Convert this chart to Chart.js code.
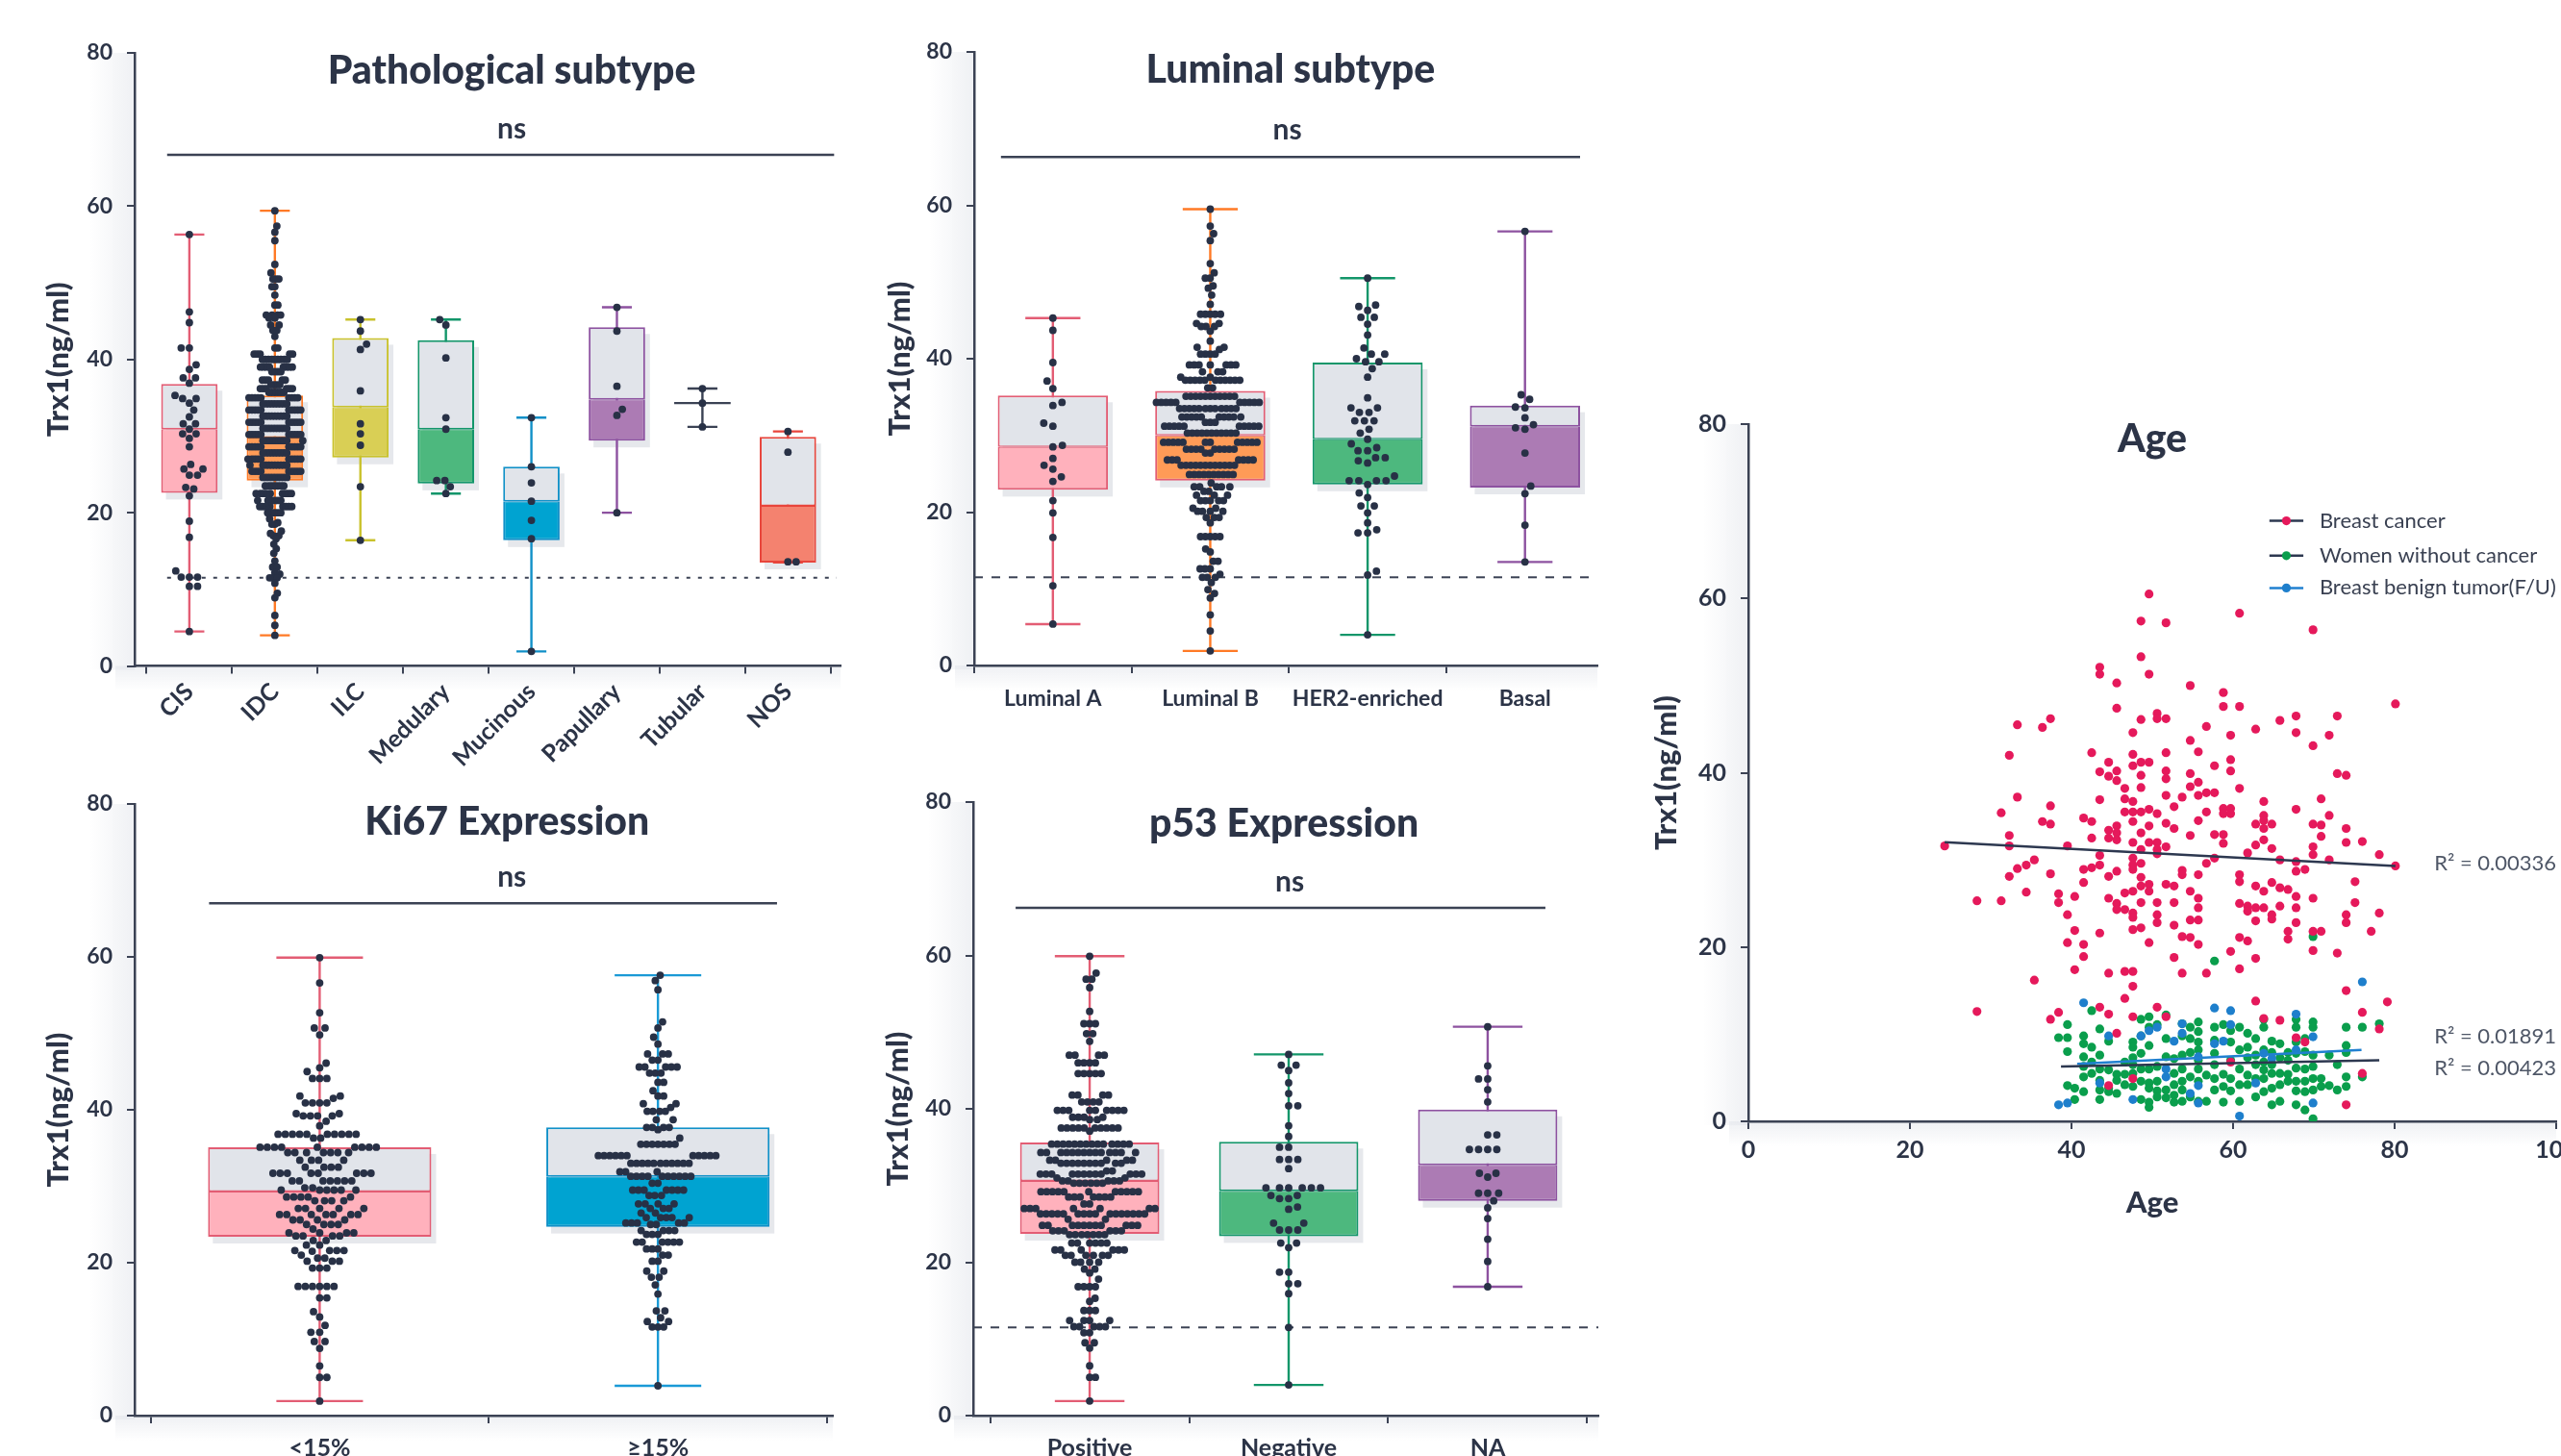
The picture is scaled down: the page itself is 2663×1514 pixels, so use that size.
<!DOCTYPE html>
<html>
<head>
<meta charset="utf-8">
<title>Trx1 levels by clinicopathological features</title>
<script src="https://cdn.jsdelivr.net/npm/chart.js@4.4.1/dist/chart.umd.min.js"></script>
<style>
  html, body { margin: 0; padding: 0; background: #ffffff; width: 2663px; height: 1514px; overflow: hidden; position: relative; }
  canvas { position: absolute; }
</style>
</head>
<body>
<canvas id="pathChart"></canvas>
<canvas id="lumChart"></canvas>
<canvas id="ki67Chart"></canvas>
<canvas id="p53Chart"></canvas>
<canvas id="ageChart"></canvas>
<script>
// ---------------------------------------------------------------
// Data: Trx1 (ng/ml). Swarm groups are listed as [value, count].
// ---------------------------------------------------------------
const yTicks = [0, 20, 40, 60, 80];

// Pathological subtype
const pathCats = ['CIS', 'IDC', 'ILC', 'Medulary', 'Mucinous', 'Papullary', 'Tubular', 'NOS'];
const pathMin = [4.5, 4.0, 16.4, 22.5, 1.9, 20.0, 31.2, 13.5];
const pathQ1  = [22.6, 24.2, 27.2, 23.8, 16.4, 29.4, null, 13.5];
const pathMed = [30.9, 29.8, 33.8, 30.9, 21.5, 34.8, 34.3, 20.9];
const pathQ3  = [36.8, 35.3, 42.8, 42.5, 26.0, 44.2, null, 29.9];
const pathMax = [56.3, 59.4, 45.2, 45.2, 32.4, 46.8, 36.2, 30.6];
const cisVals = [[56.3,1],[46.2,1],[44.8,1],[41.5,2],[39.3,1],[38.7,1],[37.6,2],[36.9,1],[35.3,1],[34.9,2],[34.3,1],[33.4,1],[32.5,1],[31.6,2],[30.9,1],[30.3,2],[29.7,1],[28.6,1],[26.3,1],[25.7,2],[24.9,2],[23.3,1],[23.1,1],[22.2,1],[18.9,1],[16.8,1],[12.4,1],[11.6,3],[10.4,2],[4.5,1]];
const idcVals = [[59.4,1],[57.4,1],[56.6,1],[55.5,1],[52.4,1],[51.3,1],[50.5,3],[49.5,2],[48.4,1],[47.1,2],[45.8,4],[45.4,2],[44.5,2],[43.8,2],[43.0,1],[41.5,2],[40.7,5],[40.0,9],[39.0,8],[38.4,4],[37.3,5],[36.7,4],[36.2,6],[35.7,6],[35.0,9],[34.2,9],[33.4,10],[32.6,9],[31.8,10],[31.0,9],[30.2,10],[29.4,10],[28.6,10],[27.8,9],[27.0,10],[26.2,10],[25.4,9],[24.6,9],[23.5,7],[22.5,9],[21.6,6],[20.8,8],[20.0,5],[19.2,1],[18.7,1],[18.5,2],[17.6,1],[17.3,1],[17.0,2],[16.6,1],[15.9,1],[15.3,1],[14.7,1],[13.7,1],[12.9,2],[12.2,1],[12.0,1],[11.5,3],[10.8,1],[9.5,1],[8.9,1],[6.6,1],[5.3,1],[4.0,1]];
const ilcVals = [[45.2,1],[43.7,1],[42.0,1],[41.3,1],[35.9,1],[31.6,1],[30.3,1],[28.8,1],[23.4,1],[16.4,1]];
const medVals = [[45.2,1],[44.5,1],[40.2,1],[32.4,1],[30.9,1],[24.2,2],[23.4,1],[22.5,1]];
const mucVals = [[32.4,1],[26.0,1],[23.9,1],[21.5,1],[19.0,1],[16.6,1],[1.9,1]];
const papVals = [[46.8,1],[43.7,1],[36.5,1],[33.5,1],[32.7,1],[20.0,1]];
const tubVals = [[36.2,1],[34.3,1],[31.2,1]];
const nosVals = [[30.6,1],[27.9,1],[13.6,2]];

// Luminal subtype
const lumCats = ['Luminal A', 'Luminal B', 'HER2-enriched', 'Basal'];
const lumMin = [5.4, 1.9, 4.0, 13.5];
const lumQ1  = [22.9, 24.1, 23.6, 23.2];
const lumMed = [28.5, 30.0, 29.5, 31.2];
const lumQ3  = [35.2, 35.8, 39.5, 33.9];
const lumMax = [45.3, 59.5, 50.5, 56.6];
const lumAVals = [[45.3,1],[43.7,1],[39.5,1],[37.1,1],[36.1,1],[34.3,1],[33.9,1],[31.6,1],[31.2,1],[28.7,1],[28.5,1],[27.0,1],[26.1,1],[25.6,1],[24.6,1],[24.0,1],[21.5,1],[19.9,1],[16.7,1],[10.4,1],[5.4,1]];
const lumBVals = [[59.5,1],[57.3,1],[56.3,1],[55.4,1],[52.4,1],[51.2,1],[50.5,2],[49.5,1],[49.2,1],[48.3,1],[47.1,1],[45.8,5],[44.6,2],[44.2,3],[43.6,1],[42.3,1],[41.5,2],[41.2,1],[40.6,4],[39.2,7],[38.3,3],[37.6,2],[37.2,11],[36.2,2],[35.1,11],[34.3,10],[33.5,12],[32.4,10],[31.7,3],[31.2,10],[30.3,11],[29.1,12],[28.2,9],[27.7,2],[26.8,7],[26.1,12],[24.9,10],[23.8,1],[23.3,5],[22.7,2],[22.2,3],[21.5,5],[20.5,2],[20.1,4],[19.3,3],[18.6,1],[16.8,5],[15.2,1],[14.8,1],[13.6,2],[12.6,3],[11.9,1],[11.5,3],[10.8,1],[9.9,1],[9.4,1],[8.8,1],[6.6,1],[4.5,1],[1.9,1]];
const her2Vals = [[50.5,1],[47.0,1],[46.8,1],[46.3,1],[45.4,2],[44.5,1],[43.1,1],[41.4,1],[40.6,2],[40.0,1],[39.6,2],[38.7,1],[37.6,1],[34.9,1],[33.6,2],[33.0,2],[31.9,3],[30.8,1],[30.3,1],[29.5,1],[28.9,1],[28.4,1],[28.0,2],[27.1,2],[26.7,1],[26.4,1],[24.7,1],[24.1,4],[23.6,1],[22.5,1],[21.9,1],[20.8,2],[19.9,1],[18.6,1],[17.7,1],[17.3,2],[12.3,1],[11.8,1],[4.0,1]];
const basalVals = [[56.6,1],[35.3,1],[34.7,1],[33.7,1],[33.6,1],[32.3,1],[31.4,1],[31.0,1],[30.8,1],[27.7,1],[23.4,1],[22.4,1],[18.3,1],[13.5,1]];

// Ki67 expression
const ki67Cats = ['<15%', '\u226515%'];
const ki67Min = [1.9, 3.9];
const ki67Q1  = [23.4, 24.7];
const ki67Med = [29.3, 31.3];
const ki67Q3  = [35.1, 37.7];
const ki67Max = [59.9, 57.6];
const ki67LowVals = [[59.9,1],[56.6,1],[52.7,1],[50.7,2],[49.8,1],[46.1,1],[45.5,1],[45.0,1],[44.1,3],[41.8,2],[41.5,1],[40.9,4],[39.5,2],[39.2,4],[38.5,1],[37.9,1],[36.8,10],[36.3,2],[35.1,9],[34.4,7],[33.4,4],[32.5,4],[31.7,8],[30.7,7],[29.8,2],[29.5,6],[28.6,5],[28.1,4],[27.1,5],[26.3,7],[25.6,4],[25.0,4],[24.4,1],[23.9,4],[23.5,4],[22.9,2],[22.3,2],[21.6,4],[21.5,1],[21.0,1],[20.6,2],[20.2,3],[19.3,3],[16.9,6],[15.4,2],[13.6,1],[12.9,1],[11.8,1],[10.9,2],[9.7,2],[8.8,1],[6.5,1],[5.0,2],[1.9,1]];
const ki67HighVals = [[57.6,1],[56.9,1],[55.7,1],[51.5,1],[50.7,1],[49.5,1],[48.6,1],[47.3,3],[46.5,2],[45.6,5],[44.8,3],[43.6,2],[42.5,1],[41.8,2],[40.8,2],[40.3,1],[39.8,4],[38.7,2],[37.7,4],[37.4,1],[36.3,1],[35.5,7],[34.0,11],[33.0,11],[31.9,3],[31.3,10],[30.4,2],[29.5,7],[28.8,3],[27.7,4],[27.1,3],[26.5,2],[25.9,5],[25.2,5],[25.0,2],[24.2,4],[23.7,3],[22.7,6],[21.8,3],[21.0,2],[20.2,2],[18.9,2],[18.1,2],[17.1,1],[15.9,1],[13.7,2],[12.8,1],[12.3,2],[11.6,3],[3.9,1]];

// p53 expression
const p53Cats = ['Positive', 'Negative', 'NA'];
const p53Min = [1.9, 4.0, 16.8];
const p53Q1  = [23.7, 23.4, 28.0];
const p53Med = [30.6, 29.3, 32.7];
const p53Q3  = [35.6, 35.7, 39.9];
const p53Max = [59.9, 47.1, 50.7];
const p53PosVals = [[59.9,1],[57.7,1],[56.9,2],[55.8,1],[52.7,1],[51.1,3],[49.8,2],[48.8,1],[47.0,4],[46.0,4],[44.6,5],[41.8,4],[40.9,4],[39.8,9],[38.9,4],[38.6,2],[37.5,10],[37.1,1],[35.4,14],[34.3,14],[33.3,5],[32.9,10],[31.9,2],[31.5,12],[31.0,2],[30.6,5],[30.3,6],[29.2,11],[28.5,7],[27.6,2],[27.0,7],[26.3,16],[25.6,2],[24.8,11],[24.1,6],[23.6,7],[22.5,6],[21.6,6],[20.9,6],[20.0,4],[19.1,2],[18.6,1],[17.8,1],[16.8,4],[15.3,1],[14.9,1],[13.7,3],[12.4,4],[11.6,5],[10.8,2],[9.5,2],[8.8,1],[6.5,1],[5.0,2],[1.9,1]];
const p53NegVals = [[47.1,1],[45.7,2],[45.0,1],[43.4,1],[42.0,1],[40.4,2],[37.8,1],[36.4,1],[35.0,2],[33.4,3],[32.2,1],[29.7,6],[28.7,2],[28.3,2],[27.2,1],[26.9,1],[25.1,2],[24.2,3],[22.5,2],[21.9,1],[18.7,2],[17.2,2],[15.9,1],[11.5,1],[4.0,1]];
const p53NaVals = [[50.7,1],[45.6,1],[43.9,2],[42.5,1],[40.9,1],[36.6,2],[34.7,4],[31.6,2],[31.1,1],[29.0,3],[28.0,1],[27.1,1],[25.7,1],[23.0,1],[20.1,1],[16.8,1]];

// Age vs Trx1: [age, Trx1]
const ageTicks = [0, 20, 40, 60, 80, 100];
const cancerPts = [[24.3,31.6],[28.3,25.3],[28.3,12.6],[31.3,35.4],[31.3,25.3],[32.3,42.0],[32.3,32.8],[32.3,31.6],[32.3,28.1],[33.3,45.5],[33.3,37.2],[33.3,29.0],[34.4,29.4],[34.4,26.3],[35.4,30.0],[35.4,16.2],[36.4,45.2],[36.4,34.4],[37.4,46.2],[37.4,36.2],[37.4,34.1],[37.4,28.4],[38.4,26.1],[38.4,25.1],[38.4,12.5],[37.4,11.7],[39.5,31.6],[39.5,23.7],[39.5,20.5],[40.4,25.8],[40.4,21.9],[40.4,17.4],[41.5,34.8],[41.5,28.9],[41.5,27.4],[41.5,20.3],[41.5,18.9],[42.5,42.3],[42.5,34.4],[42.5,32.5],[42.5,29.1],[43.5,52.1],[43.5,51.3],[43.5,40.1],[43.5,36.9],[43.5,30.5],[43.5,29.4],[43.5,21.6],[43.5,13.1],[44.6,41.2],[44.6,39.6],[44.6,33.4],[44.6,32.5],[44.6,28.1],[44.6,25.6],[44.6,17.0],[44.6,12.3],[45.6,50.3],[45.6,47.4],[45.6,40.2],[45.6,39.1],[45.6,33.9],[45.6,33.1],[45.6,32.3],[45.6,28.7],[45.6,25.0],[45.6,24.3],[45.6,10.1],[46.6,38.2],[46.6,37.0],[46.6,35.5],[46.6,26.2],[46.6,24.3],[46.6,17.2],[46.6,14.1],[47.6,44.6],[47.6,42.1],[47.6,40.8],[47.6,36.7],[47.6,35.5],[47.6,34.4],[47.6,32.0],[47.6,30.2],[47.6,29.4],[47.6,28.9],[47.6,26.4],[47.6,23.9],[47.6,23.4],[47.6,22.0],[47.6,17.2],[47.6,15.5],[47.6,12.0],[47.6,4.9],[48.6,57.4],[48.6,53.3],[48.6,46.1],[48.6,41.2],[48.6,39.7],[48.6,38.3],[48.6,35.5],[48.6,33.1],[48.6,31.2],[48.6,29.6],[48.6,28.0],[48.6,27.0],[48.6,25.1],[48.6,22.2],[49.6,60.5],[49.6,51.3],[49.6,41.2],[49.6,35.8],[49.6,33.9],[49.6,32.0],[49.6,27.2],[49.6,26.4],[49.6,20.5],[50.6,46.8],[50.6,46.2],[50.6,35.3],[50.6,32.0],[50.6,31.2],[50.6,30.7],[50.6,25.1],[50.6,23.7],[50.6,22.8],[50.6,13.1],[51.7,57.2],[51.7,46.2],[51.7,42.3],[51.7,40.2],[51.7,39.3],[51.7,37.4],[51.7,34.2],[51.7,31.5],[51.7,27.2],[51.7,12.0],[52.7,36.1],[52.7,33.6],[52.7,27.0],[52.7,25.1],[52.7,22.5],[52.7,18.8],[53.7,37.2],[53.7,28.8],[53.7,28.3],[53.7,21.2],[53.7,17.0],[54.7,50.0],[54.7,43.7],[54.7,39.9],[54.7,38.4],[54.7,32.8],[54.7,26.4],[54.7,23.1],[54.7,21.1],[55.7,42.4],[55.7,38.9],[55.7,37.4],[55.7,34.5],[55.7,28.3],[55.7,25.6],[55.7,24.5],[55.7,23.1],[55.7,20.3],[56.7,45.3],[56.7,37.7],[56.7,35.5],[56.7,29.6],[56.7,17.0],[57.7,40.8],[57.7,37.7],[57.7,32.9],[57.7,30.2],[58.8,49.2],[58.8,47.6],[58.8,35.9],[58.8,35.3],[58.8,32.9],[58.8,31.9],[59.7,44.3],[59.7,41.5],[59.7,40.2],[59.7,35.9],[59.7,35.3],[59.7,19.5],[60.8,58.3],[60.8,47.6],[60.8,38.2],[60.8,28.3],[60.8,27.5],[60.8,25.0],[60.8,21.1],[60.8,17.5],[61.8,30.8],[61.8,24.7],[61.8,24.1],[61.8,20.7],[62.8,45.0],[62.8,34.1],[62.8,31.7],[62.8,27.0],[62.8,24.5],[62.8,23.0],[62.8,18.7],[62.8,13.8],[63.8,36.7],[63.8,35.1],[63.8,34.5],[63.8,33.6],[63.8,32.3],[63.8,26.4],[63.8,24.5],[63.8,11.8],[64.8,34.1],[64.8,31.3],[64.8,27.4],[64.8,23.7],[64.8,23.2],[65.8,46.0],[65.8,30.0],[65.8,26.8],[65.8,24.7],[65.8,11.6],[66.8,26.6],[66.8,21.8],[66.8,20.9],[67.8,46.5],[67.8,44.6],[67.8,35.8],[67.8,29.8],[67.8,28.7],[67.8,25.8],[67.8,24.5],[67.8,22.8],[67.8,9.6],[68.9,28.9],[68.9,9.1],[69.9,56.4],[69.9,43.1],[69.9,34.1],[69.9,31.5],[69.9,30.6],[69.9,25.6],[69.9,21.8],[69.9,19.6],[70.9,37.0],[70.9,34.0],[70.9,32.7],[70.9,21.8],[71.9,44.3],[71.9,35.1],[71.9,30.0],[72.9,46.5],[72.9,39.9],[72.9,19.3],[74.0,39.7],[74.0,33.6],[74.0,32.0],[74.0,23.7],[74.0,22.8],[74.0,15.0],[74.0,1.9],[75.1,27.5],[75.1,25.1],[76.0,32.1],[76.0,12.5],[76.0,5.5],[77.1,21.8],[78.1,30.6],[78.1,23.9],[78.1,10.6],[79.1,13.7],[80.1,47.9],[80.1,29.3],[59.7,6.8],[44.6,4.1]];
const womenPts = [[38.4,9.6],[39.5,11.1],[39.5,9.6],[39.5,8.0],[39.5,4.1],[40.4,3.8],[40.4,2.5],[41.5,9.8],[41.5,8.9],[41.5,7.4],[41.5,6.3],[41.5,5.1],[41.5,3.4],[42.5,12.7],[42.5,8.5],[42.5,6.8],[42.5,5.5],[43.5,10.6],[43.5,7.6],[43.5,6.0],[43.5,4.7],[43.5,3.6],[43.5,2.5],[44.6,9.2],[44.6,5.9],[44.6,3.8],[44.6,3.4],[45.6,5.4],[45.6,4.7],[45.6,3.2],[46.6,6.8],[46.6,5.4],[46.6,4.2],[47.6,9.1],[47.6,8.5],[47.6,7.3],[47.6,6.5],[47.6,5.5],[47.6,4.0],[48.6,11.7],[48.6,9.8],[48.6,7.8],[48.6,6.0],[48.6,4.6],[48.6,2.5],[49.6,12.0],[49.6,10.8],[49.6,8.7],[49.6,6.0],[49.6,4.4],[49.6,3.8],[49.6,2.2],[49.6,1.6],[50.6,11.1],[50.6,6.3],[50.6,4.6],[50.6,3.5],[50.6,2.8],[51.7,12.2],[51.7,9.5],[51.7,7.4],[51.7,3.6],[51.7,2.7],[52.7,7.2],[52.7,5.5],[52.7,4.2],[52.7,3.0],[52.7,2.2],[53.7,11.2],[53.7,9.8],[53.7,7.6],[53.7,6.0],[53.7,4.6],[53.7,3.6],[53.7,2.3],[54.7,10.8],[54.7,9.5],[54.7,7.9],[54.7,5.1],[54.7,2.8],[55.7,11.4],[55.7,10.3],[55.7,9.1],[55.7,8.2],[55.7,7.0],[55.7,6.0],[55.7,4.6],[55.7,2.3],[56.7,5.3],[56.7,2.3],[57.7,18.4],[57.7,10.8],[57.7,9.3],[57.7,7.8],[57.7,6.5],[57.7,4.9],[57.7,3.6],[58.8,11.1],[58.8,5.4],[58.8,4.0],[58.8,2.2],[59.7,10.4],[59.7,9.1],[59.7,7.0],[59.7,4.9],[59.7,3.5],[60.8,10.8],[60.8,8.2],[60.8,6.0],[60.8,4.2],[60.8,2.3],[61.8,10.1],[61.8,8.5],[61.8,7.3],[61.8,5.3],[61.8,4.2],[62.8,9.5],[62.8,7.6],[62.8,6.5],[62.8,4.9],[62.8,2.8],[63.8,11.7],[63.8,10.8],[63.8,8.2],[63.8,6.8],[63.8,5.9],[63.8,4.9],[63.8,3.4],[64.8,9.2],[64.8,7.9],[64.8,6.5],[64.8,5.5],[64.8,3.8],[64.8,1.9],[65.8,8.9],[65.8,7.3],[65.8,5.5],[65.8,4.2],[65.8,2.3],[66.8,7.9],[66.8,7.0],[66.8,5.4],[66.8,4.6],[67.8,11.7],[67.8,10.8],[67.8,9.1],[67.8,7.8],[67.8,6.1],[67.8,4.6],[67.8,3.5],[67.8,1.9],[68.9,9.5],[68.9,8.0],[68.9,6.0],[68.9,4.6],[68.9,3.4],[68.9,1.3],[69.9,21.2],[69.9,11.4],[69.9,10.8],[69.9,7.6],[69.9,6.3],[69.9,4.9],[69.9,3.6],[69.9,0.3],[70.9,4.9],[70.9,4.0],[71.9,7.6],[71.9,4.1],[72.9,6.5],[72.9,3.6],[74.0,10.8],[74.0,8.7],[74.0,7.9],[74.0,5.1],[74.0,4.0],[76.0,10.8],[76.0,5.1],[78.1,11.2]];
const benignPts = [[38.4,1.9],[39.5,2.1],[41.5,13.6],[44.6,9.8],[43.5,4.4],[47.6,2.5],[48.6,9.8],[49.6,10.4],[50.6,10.8],[51.7,6.0],[51.7,5.1],[53.7,11.2],[53.7,10.1],[52.7,9.2],[54.7,3.2],[55.7,4.1],[55.7,2.1],[57.7,13.0],[57.7,8.9],[58.8,9.2],[59.7,12.7],[59.7,11.1],[60.8,0.6],[63.8,7.8],[64.8,7.2],[67.8,12.3],[67.8,8.2],[69.9,9.7],[69.9,2.1],[76.0,16.0],[62.8,4.4],[55.7,7.4]];
const groupNames = ['Breast cancer', 'Women without cancer', 'Breast benign tumor(F/U)'];
// linear fits: Trx1 = intercept + slope * age, drawn over the fitted age span
const fitSlope = [-0.049, 0.0178, 0.0455];
const fitIntercept = [33.23, 5.61, 4.75];
const fitFrom = [24.3, 38.7, 40.7];
const fitTo = [80.1, 78.1, 75.9];
const r2Labels = ['R\u00b2 = 0.00336', 'R\u00b2 = 0.01891', 'R\u00b2 = 0.00423'];
const r2Y = [29.6, 9.7, 6.1];

// ---------------------------------------------------------------
// Styling
// ---------------------------------------------------------------
const INK = '#2c3447';
const AXIS = '#3b4254';
const DOT = '#283146';
const UPPER = '#e1e4ea';
const SHADOW = '#e6e8ec';
const FONT = 'Lato, "Noto Sans", sans-serif';
Chart.defaults.font.family = FONT;
Chart.defaults.color = INK;

const PINK = { fill: '#ffb1bc', line: '#e35d74' };
const ORANGE = { fill: '#ff9b57', line: '#ff7a26' };
const YELLOW = { fill: '#d9cf55', line: '#c9c22c' };
const GREEN = { fill: '#4db87e', line: '#13966a' };
const BLUE = { fill: '#00a3d1', line: '#1090c8' };
const PURPLE = { fill: '#ac7bb4', line: '#8d52a0' };
const SALMON = { fill: '#f4826f', line: '#e8453c' };
const GREY = { fill: '#cfd3da', line: '#3b4254' };

function expandRows(rows) {
  const out = [];
  rows.forEach(([v, n]) => { for (let k = 0; k < n; k++) out.push(v); });
  return out;
}

// place each dot as close to the centre line as possible without overlap
function swarmOffsets(py, d) {
  const order = py.map((_, i) => i).sort((a, b) => py[b] - py[a]);
  const placed = [], out = new Array(py.length);
  let flip = 1;
  for (const i of order) {
    const y = py[i], iv = [];
    for (const p of placed) {
      const dy = Math.abs(p.y - y);
      if (dy < d) { const w = Math.sqrt(d * d - dy * dy); iv.push([p.x - w, p.x + w]); }
    }
    const cands = [0];
    iv.forEach(([a, b]) => cands.push(a, b));
    cands.sort((a, b) => (Math.round(Math.abs(a) * 100) - Math.round(Math.abs(b) * 100)) || (flip * (b - a)));
    let x = 0;
    for (const c of cands) {
      if (iv.every(([a, b]) => c <= a + 1e-6 || c >= b - 1e-6)) { x = c; break; }
    }
    if (Math.abs(x) > 1e-6) flip = -flip;
    placed.push({ x, y });
    out[i] = x;
  }
  return out;
}

function placeCanvas(cv, box) {
  cv.width = box.w; cv.height = box.h;
  cv.style.left = box.x + 'px'; cv.style.top = box.y + 'px';
  cv.style.width = box.w + 'px'; cv.style.height = box.h + 'px';
}

function tickFont(size) { return { family: FONT, size: size || 23, weight: 'bold' }; }

function axisTitle(text, pad) {
  return { display: true, text, color: INK, font: { family: FONT, size: 31, weight: '900' }, padding: pad };
}

function drawText(ctx, text, x, y, font, align, color) {
  ctx.save();
  ctx.font = font; ctx.fillStyle = color || INK;
  ctx.textAlign = align || 'center'; ctx.textBaseline = 'middle';
  ctx.fillText(text, x, y);
  ctx.restore();
}

// faint soft band just outside the axes
function axisGlow(chart) {
  const { ctx, chartArea: a } = chart;
  ctx.save();
  let g = ctx.createLinearGradient(a.left - 46, 0, a.left, 0);
  g.addColorStop(0, 'rgba(225,228,234,0)');
  g.addColorStop(1, 'rgba(225,228,234,0.55)');
  ctx.fillStyle = g;
  ctx.fillRect(a.left - 46, a.top, 46, a.bottom - a.top + 4);
  g = ctx.createLinearGradient(0, a.bottom, 0, a.bottom + 26);
  g.addColorStop(0, 'rgba(225,228,234,0.55)');
  g.addColorStop(1, 'rgba(225,228,234,0)');
  ctx.fillStyle = g;
  ctx.fillRect(a.left - 20, a.bottom, a.right - a.left + 20, 26);
  ctx.restore();
}

// ---------------------------------------------------------------
// Box + swarm panels
// ---------------------------------------------------------------
function makeBoxPanel(o) {
  const cv = document.getElementById(o.id);
  placeCanvas(cv, o.canvas);
  const yW = o.plot.L - o.canvas.x;
  const padTop = o.plot.T - o.canvas.y;
  const padRight = o.canvas.x + o.canvas.w - o.plot.R;
  const xH = o.canvas.y + o.canvas.h - o.plot.B;

  const lower = [], upper = [];
  o.cats.forEach((c, i) => {
    if (o.q1[i] == null) return;
    lower.push({ x: i, y: [o.q1[i], o.med[i]] });
    upper.push({ x: i, y: [o.med[i], o.q3[i]] });
  });
  const pick = (ctx, key) => o.colors[ctx.raw ? ctx.raw.x : 0][key];

  const decor = {
    id: 'decor',
    beforeDraw(chart) { axisGlow(chart); },
    beforeDatasetsDraw(chart) {
      const { ctx, scales: { x, y } } = chart;
      ctx.save();
      if (o.cutoff) {
        ctx.strokeStyle = AXIS; ctx.lineWidth = 2; ctx.setLineDash(o.cutoff.dash);
        const yy = y.getPixelForValue(o.cutoff.y);
        ctx.beginPath(); ctx.moveTo(x.getPixelForValue(o.cutoff.x0), yy); ctx.lineTo(x.getPixelForValue(o.cutoff.x1), yy); ctx.stroke();
        ctx.setLineDash([]);
      }
      // soft offset shadow behind each box
      ctx.fillStyle = SHADOW;
      o.cats.forEach((c, i) => {
        if (o.q1[i] == null) return;
        const xl = x.getPixelForValue(i - o.boxFrac / 2), xr = x.getPixelForValue(i + o.boxFrac / 2);
        const yt = y.getPixelForValue(o.q3[i]), yb = y.getPixelForValue(o.q1[i]);
        ctx.fillRect(xl + 5, yt + 7, xr - xl, yb - yt);
      });
      // whiskers with caps
      ctx.lineWidth = 2.4;
      o.cats.forEach((c, i) => {
        ctx.strokeStyle = o.whisker[i];
        const xc = x.getPixelForValue(i);
        const yMin = y.getPixelForValue(o.min[i]), yMax = y.getPixelForValue(o.max[i]);
        const cl = x.getPixelForValue(i - o.capFrac / 2), cr = x.getPixelForValue(i + o.capFrac / 2);
        ctx.beginPath();
        ctx.moveTo(xc, yMin); ctx.lineTo(xc, yMax);
        ctx.moveTo(cl, yMin); ctx.lineTo(cr, yMin);
        ctx.moveTo(cl, yMax); ctx.lineTo(cr, yMax);
        if (o.q1[i] == null) {
          const ym = y.getPixelForValue(o.med[i]);
          ctx.moveTo(x.getPixelForValue(i - o.boxFrac / 2), ym); ctx.lineTo(x.getPixelForValue(i + o.boxFrac / 2), ym);
        }
        ctx.stroke();
      });
      ctx.restore();
    },
    afterDraw(chart) {
      const { ctx, scales: { x, y } } = chart;
      drawText(ctx, o.title, x.getPixelForValue(o.titleAt[0]), y.getPixelForValue(o.titleAt[1]), '900 41px ' + FONT);
      drawText(ctx, 'ns', x.getPixelForValue(o.nsAt[0]), y.getPixelForValue(o.nsAt[1]), 'bold 30px ' + FONT);
      ctx.save();
      ctx.strokeStyle = AXIS; ctx.lineWidth = 2.5;
      const ly = y.getPixelForValue(o.bar.y);
      ctx.beginPath(); ctx.moveTo(x.getPixelForValue(o.bar.x0), ly); ctx.lineTo(x.getPixelForValue(o.bar.x1), ly); ctx.stroke();
      ctx.restore();
    }
  };

  const chart = new Chart(cv, {
    type: 'scatter',
    data: {
      datasets: [
        { type: 'scatter', data: [], backgroundColor: DOT, borderWidth: 0, pointRadius: o.dotR, order: 0 },
        { type: 'bar', data: lower, backgroundColor: c => pick(c, 'fill'), borderColor: c => pick(c, 'line'),
          borderWidth: { top: 1, right: 2, bottom: 2, left: 2 }, borderSkipped: false, grouped: false,
          categoryPercentage: 1, barPercentage: o.boxFrac, order: 2 },
        { type: 'bar', data: upper, backgroundColor: UPPER, borderColor: c => pick(c, 'line'),
          borderWidth: { top: 2, right: 2, bottom: 1.5, left: 2 }, borderSkipped: false, grouped: false,
          categoryPercentage: 1, barPercentage: o.boxFrac, order: 1 }
      ]
    },
    options: {
      responsive: false, animation: false, events: [],
      layout: { padding: { left: 0, top: padTop, right: padRight, bottom: 0 } },
      plugins: { legend: { display: false }, tooltip: { enabled: false } },
      scales: {
        x: {
          type: 'linear', min: o.xRange[0], max: o.xRange[1], offset: false,
          afterBuildTicks: ax => { ax.ticks = o.cats.map((c, i) => ({ value: i })); },
          afterFit: ax => { ax.height = xH; },
          ticks: { callback: v => o.cats[v], autoSkip: false, maxRotation: o.rot, minRotation: o.rot,
                   font: tickFont(o.xFont), color: INK, padding: o.xPad },
          grid: { display: true, drawOnChartArea: false, drawTicks: true, tickLength: 8, color: AXIS, lineWidth: 2 },
          border: { display: true, color: AXIS, width: 2.5 }
        },
        y: {
          type: 'linear', min: 0, max: 80,
          afterBuildTicks: ax => { ax.ticks = yTicks.map(v => ({ value: v })); },
          afterFit: ax => { ax.width = yW; },
          ticks: { font: tickFont(23), color: INK, padding: 15 },
          grid: { display: true, drawOnChartArea: false, drawTicks: true, tickLength: 8, color: AXIS, lineWidth: 2 },
          border: { display: true, color: AXIS, width: 2.5 },
          title: axisTitle('Trx1(ng/ml)', { top: o.yTitleOff - 19, bottom: 0 })
        }
      }
    },
    plugins: [decor]
  });

  // lay the dots out as a swarm around each category
  const xs = chart.scales.x, ys = chart.scales.y;
  const ppu = xs.getPixelForValue(1) - xs.getPixelForValue(0);
  const pts = [];
  o.groups.forEach((rows, i) => {
    const vals = expandRows(rows);
    const py = vals.map(v => ys.getPixelForValue(v));
    let dx = swarmOffsets(py, o.dotGap);
    const m = Math.max(0, ...dx.map(Math.abs));
    if (m > o.maxHalf) dx = dx.map(d => d * o.maxHalf / m);
    vals.forEach((v, k) => pts.push({ x: i + dx[k] / ppu, y: v }));
  });
  chart.data.datasets[0].data = pts;
  chart.update('none');
  return chart;
}

makeBoxPanel({
  id: 'pathChart', canvas: { x: 0, y: 0, w: 900, h: 830 }, plot: { L: 140, T: 55, R: 874, B: 692.5 },
  cats: pathCats, min: pathMin, q1: pathQ1, med: pathMed, q3: pathQ3, max: pathMax,
  groups: [cisVals, idcVals, ilcVals, medVals, mucVals, papVals, tubVals, nosVals],
  colors: [PINK, ORANGE, YELLOW, GREEN, BLUE, PURPLE, GREY, SALMON],
  whisker: [PINK.line, ORANGE.line, YELLOW.line, GREEN.line, BLUE.line, PURPLE.line, AXIS, SALMON.line],
  xRange: [-0.64, 7.615], rot: 45, xPad: 4, xFont: 25, boxFrac: 0.66, capFrac: 0.35,
  dotR: 3.9, dotGap: 8.5, maxHalf: 29, yTitleOff: 61,
  title: 'Pathological subtype', titleAt: [3.77, 77.7], nsAt: [3.77, 70.0], bar: { y: 66.7, x0: -0.26, x1: 7.54 },
  cutoff: { y: 11.5, x0: -0.26, x1: 7.57, dash: [4, 8] }
});

makeBoxPanel({
  id: 'lumChart', canvas: { x: 880, y: 0, w: 800, h: 780 }, plot: { L: 1013, T: 54, R: 1661, B: 692 },
  cats: lumCats, min: lumMin, q1: lumQ1, med: lumMed, q3: lumQ3, max: lumMax,
  groups: [lumAVals, lumBVals, her2Vals, basalVals],
  colors: [PINK, { fill: ORANGE.fill, line: PINK.line }, GREEN, PURPLE],
  whisker: [PINK.line, ORANGE.line, GREEN.line, PURPLE.line],
  xRange: [-0.5, 3.46], rot: 0, xPad: 13, xFont: 23, boxFrac: 0.70, capFrac: 0.35,
  dotR: 3.9, dotGap: 10, maxHalf: 56, yTitleOff: 56,
  title: 'Luminal subtype', titleAt: [1.51, 77.6], nsAt: [1.49, 69.8], bar: { y: 66.3, x0: -0.33, x1: 3.35 },
  cutoff: { y: 11.5, x0: -0.5, x1: 3.46, dash: [9, 9] }
});

makeBoxPanel({
  id: 'ki67Chart', canvas: { x: 0, y: 780, w: 900, h: 734 }, plot: { L: 140, T: 836, R: 866, B: 1472 },
  cats: ki67Cats, min: ki67Min, q1: ki67Q1, med: ki67Med, q3: ki67Q3, max: ki67Max,
  groups: [ki67LowVals, ki67HighVals],
  colors: [PINK, BLUE],
  whisker: [PINK.line, '#1a9ad6'],
  xRange: [-0.547, 1.517], rot: 0, xPad: 11, xFont: 25, boxFrac: 0.66, capFrac: 0.256,
  dotR: 3.9, dotGap: 10.8, maxHalf: 62, yTitleOff: 61,
  title: 'Ki67 Expression', titleAt: [0.554, 77.6], nsAt: [0.568, 70.4], bar: { y: 67.0, x0: -0.327, x1: 1.352 },
  cutoff: null
});

makeBoxPanel({
  id: 'p53Chart', canvas: { x: 880, y: 780, w: 800, h: 734 }, plot: { L: 1012, T: 834, R: 1662, B: 1472 },
  cats: p53Cats, min: p53Min, q1: p53Q1, med: p53Med, q3: p53Q3, max: p53Max,
  groups: [p53PosVals, p53NegVals, p53NaVals],
  colors: [PINK, GREEN, PURPLE],
  whisker: [PINK.line, GREEN.line, PURPLE.line],
  xRange: [-0.585, 2.556], rot: 0, xPad: 11, xFont: 25, boxFrac: 0.70, capFrac: 0.35,
  dotR: 3.9, dotGap: 9.5, maxHalf: 68, yTitleOff: 54,
  title: 'p53 Expression', titleAt: [0.976, 77.2], nsAt: [1.005, 69.5], bar: { y: 66.2, x0: -0.372, x1: 2.29 },
  cutoff: { y: 11.5, x0: -0.585, x1: 2.556, dash: [9, 9] }
});

// ---------------------------------------------------------------
// Age scatter with linear fits
// ---------------------------------------------------------------
(function () {
  const box = { x: 1680, y: 380, w: 1040, h: 900 };
  const plot = { L: 1818, T: 441, R: 2658, B: 1166 };
  const cv = document.getElementById('ageChart');
  placeCanvas(cv, box);
  const yW = plot.L - box.x, padTop = plot.T - box.y, padRight = box.x + box.w - plot.R, xH = box.y + box.h - plot.B;
  const pointCol = ['#e5195b', '#0a9e4c', '#1e7fcc'];
  const lineCol = ['#2d3850', '#2d3850', '#2080d0'];
  const groups = [cancerPts, womenPts, benignPts];
  const pointOrder = [1, 3, 2];

  const datasets = [];
  groups.forEach((g, i) => {
    datasets.push({ type: 'scatter', label: groupNames[i], data: g.map(([a, v]) => ({ x: a, y: v })),
      backgroundColor: pointCol[i], borderWidth: 0, pointRadius: 4.6, order: pointOrder[i] });
  });
  groups.forEach((g, i) => {
    datasets.push({ type: 'line', data: [fitFrom[i], fitTo[i]].map(a => ({ x: a, y: fitIntercept[i] + fitSlope[i] * a })),
      borderColor: lineCol[i], borderWidth: 2.5, pointRadius: 0, fill: false, order: 0 });
  });

  const decor = {
    id: 'ageDecor',
    beforeDraw(chart) { axisGlow(chart); },
    afterDraw(chart) {
      const { ctx, scales: { x, y } } = chart;
      drawText(ctx, 'Age', x.getPixelForValue(50), y.getPixelForValue(78.3), '900 41px ' + FONT);
      // legend
      const rows = [68.9, 64.9, 61.2];
      rows.forEach((ry, i) => {
        const yy = y.getPixelForValue(ry);
        ctx.save();
        ctx.strokeStyle = lineCol[i]; ctx.lineWidth = 2.5;
        ctx.beginPath(); ctx.moveTo(x.getPixelForValue(64.5), yy); ctx.lineTo(x.getPixelForValue(68.7), yy); ctx.stroke();
        ctx.fillStyle = pointCol[i];
        ctx.beginPath(); ctx.arc(x.getPixelForValue(66.6), yy, 4.6, 0, Math.PI * 2); ctx.fill();
        ctx.restore();
        drawText(ctx, groupNames[i], x.getPixelForValue(70.7), yy, '400 22px ' + FONT, 'left', '#3a4152');
      });
      r2Labels.forEach((t, i) => {
        drawText(ctx, t, x.getPixelForValue(84.9), y.getPixelForValue(r2Y[i]), '400 22px ' + FONT, 'left', '#4f5767');
      });
    }
  };

  new Chart(cv, {
    type: 'scatter',
    data: { datasets },
    options: {
      responsive: false, animation: false, events: [],
      layout: { padding: { left: 0, top: padTop, right: padRight, bottom: 0 } },
      plugins: { legend: { display: false }, tooltip: { enabled: false } },
      scales: {
        x: {
          type: 'linear', min: 0, max: 100,
          afterBuildTicks: ax => { ax.ticks = ageTicks.map(v => ({ value: v })); },
          afterFit: ax => { ax.height = xH; },
          ticks: { font: tickFont(25), color: INK, padding: 7, maxRotation: 0 },
          grid: { display: true, drawOnChartArea: false, drawTicks: true, tickLength: 8, color: AXIS, lineWidth: 2 },
          border: { display: true, color: AXIS, width: 2.5 },
          title: { display: true, text: 'Age', color: INK, font: { family: FONT, size: 31, weight: '900' }, padding: { top: 0, bottom: 10 } }
        },
        y: {
          type: 'linear', min: 0, max: 80,
          afterBuildTicks: ax => { ax.ticks = yTicks.map(v => ({ value: v })); },
          afterFit: ax => { ax.width = yW; },
          ticks: { font: tickFont(25), color: INK, padding: 15 },
          grid: { display: true, drawOnChartArea: false, drawTicks: true, tickLength: 8, color: AXIS, lineWidth: 2 },
          border: { display: true, color: AXIS, width: 2.5 },
          title: axisTitle('Trx1(ng/ml)', { top: 34, bottom: 0 })
        }
      }
    },
    plugins: [decor]
  });
})();
</script>
</body>
</html>
